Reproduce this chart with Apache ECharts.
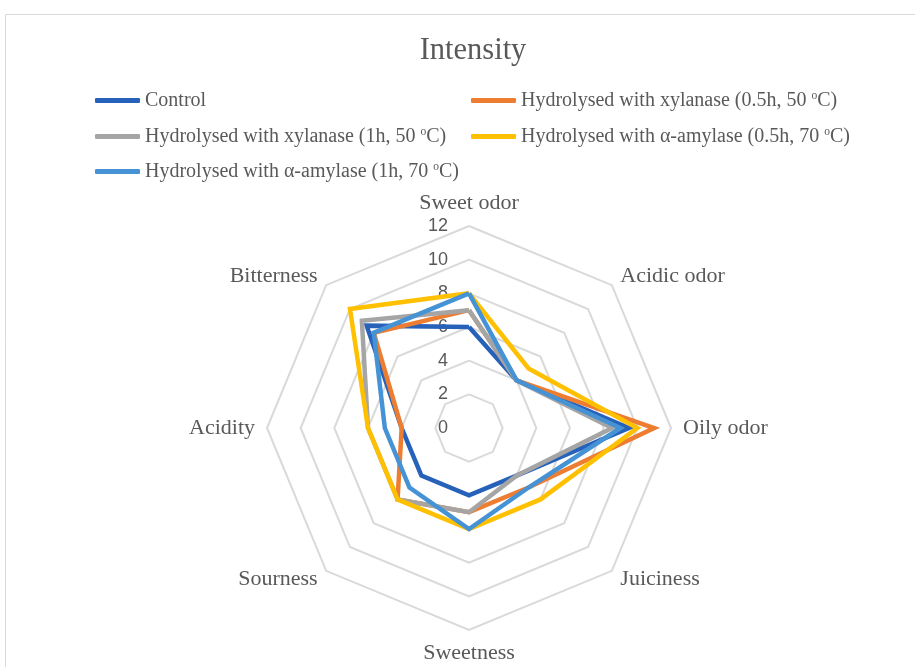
<!DOCTYPE html>
<html>
<head>
<meta charset="utf-8">
<script src="https://cdn.jsdelivr.net/npm/echarts@6/dist/echarts.min.js"></script>
<style>
html,body{margin:0;padding:0;background:#fff;}
#chart{width:915px;height:667px;}
</style>
</head>
<body>
<div id="chart"></div>
<script>
// ---- data ----
const titleText = 'Intensity';
const categories = ['Sweet odor', 'Acidic odor', 'Oily odor', 'Juiciness', 'Sweetness', 'Sourness', 'Acidity', 'Bitterness'];
const tickLabels = [0, 2, 4, 6, 8, 10, 12];
const seriesNames = [
  'Control',
  'Hydrolysed with xylanase (0.5h, 50 oC)',
  'Hydrolysed with xylanase (1h, 50 oC)',
  'Hydrolysed with α-amylase (0.5h, 70 oC)',
  'Hydrolysed with α-amylase (1h, 70 oC)'
];
const control       = [6, 4, 9.5, 4, 4, 4, 4, 8.6];
const xylanase05h   = [7, 4, 11, 5, 5, 6, 4, 8];
const xylanase1h    = [7, 4, 8.5, 4, 5, 6, 6, 9];
const amylase05h    = [8, 5, 10, 6, 6, 6, 6, 10];
const amylase1h     = [8, 4, 9, 5, 6, 5, 5, 8];
const seriesValues = [control, xylanase05h, xylanase1h, amylase05h, amylase1h];
const colors = ['#2661BA', '#ED7D31', '#A5A5A5', '#FFC000', '#4592D5'];

// ECharts lays radar indicators counter-clockwise; reorder to go clockwise
const order = [0, 7, 6, 5, 4, 3, 2, 1];
const axisMax = tickLabels[tickLabels.length - 1];

const serif = '"Liberation Serif", "Times New Roman", serif';
const textColor = '#595959';

const indicators = order.map(function (i, k) {
  const ind = { name: categories[i], min: 0, max: axisMax };
  if (k === 0) {
    ind.axisLabel = {
      show: true, margin: 21, fontSize: 18, color: textColor,
      fontFamily: '"Liberation Sans", Arial, sans-serif'
    };
  }
  return ind;
});

const legendPos = [[95, 89.5], [471, 89.5], [95, 125.5], [471, 125.5], [95, 160.5]];
const legends = seriesNames.map(function (n, i) {
  return {
    data: [n],
    left: legendPos[i][0], top: legendPos[i][1],
    padding: 0,
    itemWidth: 45, itemHeight: 5,
    icon: 'roundRect',
    selectedMode: false,
    formatter: function (name) { return name.replace(' oC)', ' {sup|o}C)'); },
    textStyle: {
      fontFamily: serif, fontSize: 20, color: textColor, lineHeight: 22,
      rich: { sup: { fontFamily: serif, fontSize: 11.5, color: textColor, verticalAlign: 'top', lineHeight: 13 } }
    }
  };
});

const chart = echarts.init(document.getElementById('chart'), null, { renderer: 'canvas' });
chart.setOption({
  backgroundColor: '#fff',
  animation: false,
  color: colors,
  title: {
    text: titleText, left: 468, top: 30, textAlign: 'center',
    textStyle: { fontFamily: serif, fontSize: 30.5, fontWeight: 'normal', color: textColor }
  },
  legend: legends,
  graphic: [{
    type: 'rect', left: 3, top: 12, silent: true, z: -10,
    shape: { width: 1000, height: 1000 },
    style: { fill: 'none', stroke: '#D9D9D9', lineWidth: 1 }
  }],
  radar: {
    center: [469, 428],
    radius: 202,
    startAngle: 90,
    splitNumber: 6,
    shape: 'polygon',
    indicator: indicators,
    nameGap: 12,
    axisName: { color: textColor, fontFamily: serif, fontSize: 22 },
    axisLine: { show: false },
    axisTick: { show: false },
    axisLabel: { show: false },
    splitLine: { lineStyle: { color: '#D9D9D9', width: 2 } },
    splitArea: { show: false }
  },
  series: [{
    type: 'radar',
    symbol: 'none',
    lineStyle: { width: 4.5, join: 'miter' },
    data: seriesValues.map(function (vals, i) {
      return {
        name: seriesNames[i],
        value: order.map(function (j) { return vals[j]; }),
        lineStyle: { color: colors[i], width: 4.5 },
        itemStyle: { color: colors[i] }
      };
    })
  }]
});
</script>
</body>
</html>
